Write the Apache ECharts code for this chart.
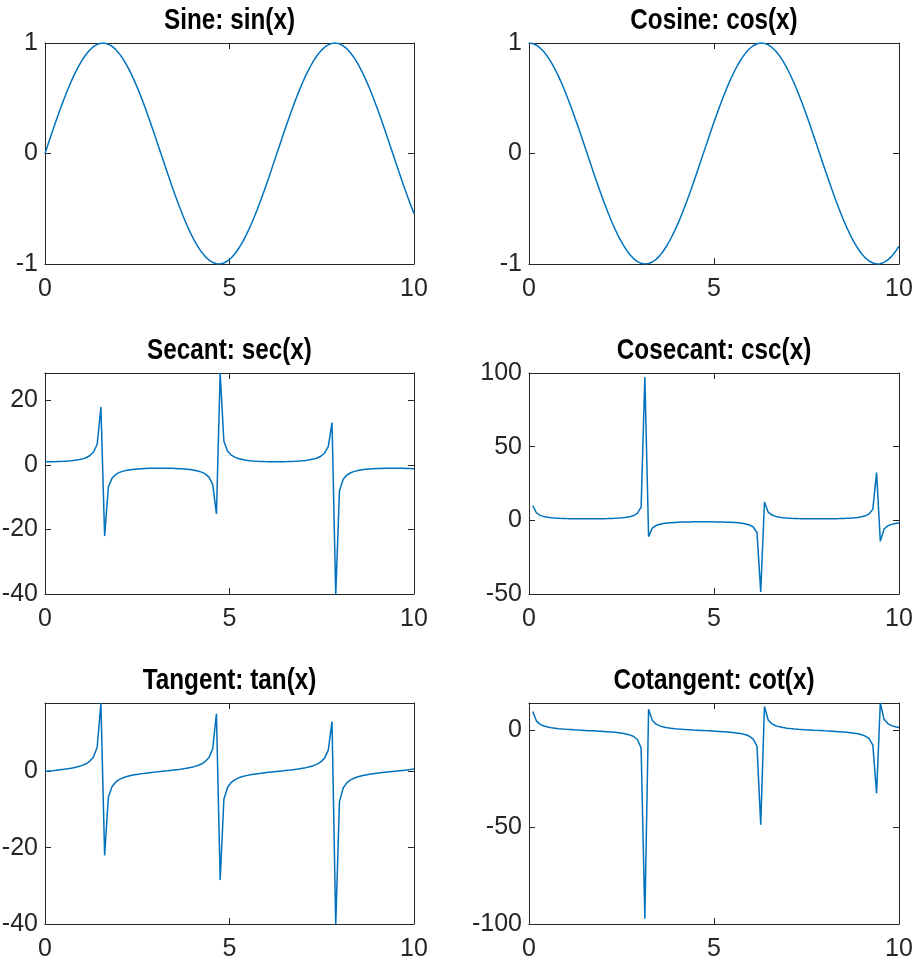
<!DOCTYPE html>
<html>
<head>
<meta charset="utf-8">
<script src="https://cdn.jsdelivr.net/npm/echarts@6/dist/echarts.min.js"></script>
<style>
html,body{margin:0;padding:0;background:#fff;}
#chart{width:917px;height:965px;}
</style>
</head>
<body>
<div id="chart"></div>
<script>
// ---- data ----
const xValues = [
  0, 0.101, 0.202, 0.303, 0.404, 0.505, 0.606, 0.707, 0.808, 0.909,
  1.010, 1.111, 1.212, 1.313, 1.414, 1.515, 1.616, 1.717, 1.818, 1.919,
  2.020, 2.121, 2.222, 2.323, 2.424, 2.525, 2.626, 2.727, 2.828, 2.929,
  3.030, 3.131, 3.232, 3.333, 3.434, 3.535, 3.636, 3.737, 3.838, 3.939,
  4.040, 4.141, 4.242, 4.343, 4.444, 4.545, 4.646, 4.747, 4.848, 4.949,
  5.051, 5.152, 5.253, 5.354, 5.455, 5.556, 5.657, 5.758, 5.859, 5.960,
  6.061, 6.162, 6.263, 6.364, 6.465, 6.566, 6.667, 6.768, 6.869, 6.970,
  7.071, 7.172, 7.273, 7.374, 7.475, 7.576, 7.677, 7.778, 7.879, 7.980,
  8.081, 8.182, 8.283, 8.384, 8.485, 8.586, 8.687, 8.788, 8.889, 8.990,
  9.091, 9.192, 9.293, 9.394, 9.495, 9.596, 9.697, 9.798, 9.899, 10
];
const sinValues = [
  0, 0.101, 0.201, 0.298, 0.393, 0.484, 0.570, 0.650, 0.723, 0.789,
  0.847, 0.896, 0.936, 0.967, 0.988, 0.998, 0.999, 0.989, 0.970, 0.940,
  0.901, 0.852, 0.795, 0.730, 0.657, 0.578, 0.493, 0.403, 0.308, 0.211,
  0.111, 0.010, -0.091, -0.191, -0.289, -0.384, -0.475, -0.561, -0.642, -0.716,
  -0.783, -0.841, -0.892, -0.933, -0.964, -0.986, -0.998, -0.999, -0.991, -0.972,
  -0.943, -0.905, -0.858, -0.802, -0.737, -0.665, -0.586, -0.502, -0.412, -0.318,
  -0.221, -0.121, -0.021, 0.080, 0.180, 0.279, 0.374, 0.466, 0.553, 0.634,
  0.709, 0.776, 0.836, 0.887, 0.929, 0.962, 0.984, 0.997, 1.000, 0.992,
  0.974, 0.947, 0.910, 0.863, 0.808, 0.744, 0.673, 0.595, 0.511, 0.421,
  0.328, 0.231, 0.132, 0.031, -0.070, -0.170, -0.269, -0.365, -0.457, -0.544
];
const cosValues = [
  1, 0.995, 0.980, 0.954, 0.920, 0.875, 0.822, 0.760, 0.691, 0.615,
  0.532, 0.444, 0.351, 0.255, 0.156, 0.056, -0.045, -0.146, -0.245, -0.341,
  -0.434, -0.523, -0.606, -0.683, -0.754, -0.816, -0.870, -0.916, -0.951, -0.978,
  -0.994, -1.000, -0.996, -0.982, -0.958, -0.924, -0.880, -0.828, -0.767, -0.698,
  -0.623, -0.541, -0.453, -0.361, -0.265, -0.166, -0.066, 0.035, 0.136, 0.235,
  0.332, 0.425, 0.514, 0.598, 0.676, 0.747, 0.810, 0.865, 0.911, 0.948,
  0.975, 0.993, 1.000, 0.997, 0.984, 0.960, 0.927, 0.885, 0.833, 0.774,
  0.706, 0.631, 0.549, 0.462, 0.370, 0.275, 0.176, 0.076, -0.025, -0.126,
  -0.225, -0.322, -0.416, -0.505, -0.590, -0.668, -0.740, -0.804, -0.860, -0.907,
  -0.945, -0.973, -0.991, -1.000, -0.998, -0.985, -0.963, -0.931, -0.890, -0.839
];
const secValues = [
  1.00, 1.01, 1.02, 1.05, 1.09, 1.14, 1.22, 1.32, 1.45, 1.63,
  1.88, 2.25, 2.85, 3.93, 6.41, 17.98, -22.05, -6.85, -4.08, -2.93,
  -2.30, -1.91, -1.65, -1.46, -1.33, -1.23, -1.15, -1.09, -1.05, -1.02,
  -1.01, -1.00, -1.00, -1.02, -1.04, -1.08, -1.14, -1.21, -1.30, -1.43,
  -1.61, -1.85, -2.21, -2.77, -3.78, -6.02, -15.18, 28.51, 7.37, 4.26,
  3.02, 2.35, 1.94, 1.67, 1.48, 1.34, 1.24, 1.16, 1.10, 1.05,
  1.03, 1.01, 1.00, 1.00, 1.02, 1.04, 1.08, 1.13, 1.20, 1.29,
  1.42, 1.59, 1.82, 2.16, 2.70, 3.64, 5.67, 13.14, -40.32, -7.97,
  -4.45, -3.11, -2.41, -1.98, -1.70, -1.50, -1.35, -1.24, -1.16, -1.10,
  -1.06, -1.03, -1.01, -1.00, -1.00, -1.02, -1.04, -1.07, -1.12, -1.19
];
const cscValues = [
  null, 9.92, 4.99, 3.35, 2.54, 2.07, 1.76, 1.54, 1.38, 1.27,
  1.18, 1.12, 1.07, 1.03, 1.01, 1.00, 1.00, 1.01, 1.03, 1.06,
  1.11, 1.17, 1.26, 1.37, 1.52, 1.73, 2.03, 2.48, 3.25, 4.75,
  9.00, 97.28, -11.04, -5.25, -3.47, -2.61, -2.11, -1.78, -1.56, -1.40,
  -1.28, -1.19, -1.12, -1.07, -1.04, -1.01, -1.00, -1.00, -1.01, -1.03,
  -1.06, -1.10, -1.17, -1.25, -1.36, -1.50, -1.71, -1.99, -2.43, -3.14,
  -4.53, -8.25, -48.64, 12.44, 5.54, 3.59, 2.67, 2.15, 1.81, 1.58,
  1.41, 1.29, 1.20, 1.13, 1.08, 1.04, 1.02, 1.00, 1.00, 1.01,
  1.03, 1.06, 1.10, 1.16, 1.24, 1.34, 1.49, 1.68, 1.96, 2.37,
  3.05, 4.33, 7.61, 32.43, -14.26, -5.87, -3.72, -2.74, -2.19, -1.84
];
const tanValues = [
  0, 0.10, 0.20, 0.31, 0.43, 0.55, 0.69, 0.85, 1.05, 1.28,
  1.59, 2.02, 2.67, 3.80, 6.33, 17.95, -22.03, -6.78, -3.96, -2.75,
  -2.07, -1.63, -1.31, -1.07, -0.87, -0.71, -0.57, -0.44, -0.32, -0.22,
  -0.11, -0.01, 0.09, 0.19, 0.30, 0.42, 0.54, 0.68, 0.84, 1.03,
  1.26, 1.56, 1.97, 2.59, 3.64, 5.93, 15.15, -28.49, -7.30, -4.14,
  -2.84, -2.13, -1.67, -1.34, -1.09, -0.89, -0.72, -0.58, -0.45, -0.34,
  -0.23, -0.12, -0.02, 0.08, 0.18, 0.29, 0.40, 0.53, 0.66, 0.82,
  1.00, 1.23, 1.52, 1.92, 2.51, 3.50, 5.58, 13.10, -40.31, -7.91,
  -4.33, -2.94, -2.19, -1.71, -1.37, -1.11, -0.91, -0.74, -0.59, -0.46,
  -0.35, -0.24, -0.13, -0.03, 0.07, 0.17, 0.28, 0.39, 0.51, 0.65
];
const cotValues = [
  null, 9.87, 4.88, 3.20, 2.34, 1.81, 1.44, 1.17, 0.96, 0.78,
  0.63, 0.50, 0.37, 0.26, 0.16, 0.06, -0.05, -0.15, -0.25, -0.36,
  -0.48, -0.61, -0.76, -0.94, -1.15, -1.41, -1.77, -2.27, -3.09, -4.64,
  -8.95, -97.27, 10.99, 5.15, 3.32, 2.41, 1.85, 1.48, 1.20, 0.98,
  0.80, 0.64, 0.51, 0.39, 0.27, 0.17, 0.07, -0.04, -0.14, -0.24,
  -0.35, -0.47, -0.60, -0.75, -0.92, -1.12, -1.38, -1.72, -2.21, -2.98,
  -4.42, -8.19, -48.63, 12.40, 5.45, 3.45, 2.48, 1.90, 1.51, 1.22,
  1.00, 0.81, 0.66, 0.52, 0.40, 0.29, 0.18, 0.08, -0.02, -0.13,
  -0.23, -0.34, -0.46, -0.59, -0.73, -0.90, -1.10, -1.35, -1.68, -2.15,
  -2.88, -4.22, -7.54, -32.42, 14.23, 5.78, 3.58, 2.55, 1.95, 1.54
];
const titles = ['Sine: sin(x)', 'Cosine: cos(x)', 'Secant: sec(x)', 'Cosecant: csc(x)', 'Tangent: tan(x)', 'Cotangent: cot(x)'];
const xTicks = [0, 5, 10];
const sinTicks = [-1, 0, 1];
const cosTicks = [-1, 0, 1];
const secTicks = [-40, -20, 0, 20];
const cscTicks = [-50, 0, 50, 100];
const tanTicks = [-40, -20, 0];
const cotTicks = [-100, -50, 0];
const xRange = [0, 10];
const sinRange = [-1, 1];
const cosRange = [-1, 1];
const secRange = [-40, 28.51];
const cscRange = [-50, 100];
const tanRange = [-40, 17.95];
const cotRange = [-100, 14.23];

// ---- layout / style ----
const panels = [
  { y: sinValues, ticks: sinTicks, range: sinRange },
  { y: cosValues, ticks: cosTicks, range: cosRange },
  { y: secValues, ticks: secTicks, range: secRange },
  { y: cscValues, ticks: cscTicks, range: cscRange },
  { y: tanValues, ticks: tanTicks, range: tanRange },
  { y: cotValues, ticks: cotTicks, range: cotRange }
];
const colLeft = [45, 529];
const colWidth = [369, 370];
const rowTop = [43, 373, 703];
const plotH = 221;
const FONT = "'Liberation Sans', Arial, Helvetica, sans-serif";
const AX = '#262626';
const LINE = '#0072BD';

const grid = [], xAxis = [], yAxis = [], series = [], graphic = [];
panels.forEach((p, i) => {
  const c = i % 2, r = Math.floor(i / 2);
  grid.push({ left: colLeft[c], top: rowTop[r], width: colWidth[c], height: plotH,
    containLabel: false, outerBoundsMode: 'none' });
  graphic.push({
    type: 'text', x: colLeft[c] + colWidth[c] / 2, y: rowTop[r] - 37, scaleX: 0.81, silent: true,
    style: { text: titles[i], fontFamily: FONT, fontSize: 30, fontWeight: 'bold', fill: '#000',
      align: 'center', verticalAlign: 'top' }
  });
  const common = {
    type: 'value', gridIndex: i,
    axisLine: { show: true, onZero: false, lineStyle: { color: AX, width: 1 } },
    splitLine: { show: false }
  };
  xAxis.push(Object.assign({}, common, {
    position: 'bottom', min: xRange[0], max: xRange[1], interval: 5,
    axisTick: { show: true, inside: true, length: 6, lineStyle: { color: AX }, customValues: xTicks },
    axisLabel: { show: true, fontFamily: FONT, fontSize: 25, color: AX, margin: 13, customValues: xTicks }
  }));
  xAxis.push(Object.assign({}, common, {
    position: 'top', min: xRange[0], max: xRange[1], interval: 5,
    axisTick: { show: true, inside: true, length: 6, lineStyle: { color: AX }, customValues: xTicks },
    axisLabel: { show: false }
  }));
  yAxis.push(Object.assign({}, common, {
    position: 'left', min: p.range[0], max: p.range[1],
    axisTick: { show: true, inside: true, length: 6, lineStyle: { color: AX }, customValues: p.ticks },
    axisLabel: { show: true, fontFamily: FONT, fontSize: 25, color: AX, margin: 7, customValues: p.ticks }
  }));
  yAxis.push(Object.assign({}, common, {
    position: 'right', min: p.range[0], max: p.range[1],
    axisTick: { show: true, inside: true, length: 6, lineStyle: { color: AX }, customValues: p.ticks },
    axisLabel: { show: false }
  }));
  series.push({
    type: 'line', xAxisIndex: 2 * i, yAxisIndex: 2 * i,
    data: xValues.map((xv, j) => [xv, p.y[j]]),
    showSymbol: false, symbol: 'none', clip: true, connectNulls: false,
    lineStyle: { color: LINE, width: 1.5 }, animation: false
  });
});

const chart = echarts.init(document.getElementById('chart'), null, { renderer: 'canvas' });
chart.setOption({ animation: false, backgroundColor: '#fff', graphic, grid, xAxis, yAxis, series });
</script>
</body>
</html>
